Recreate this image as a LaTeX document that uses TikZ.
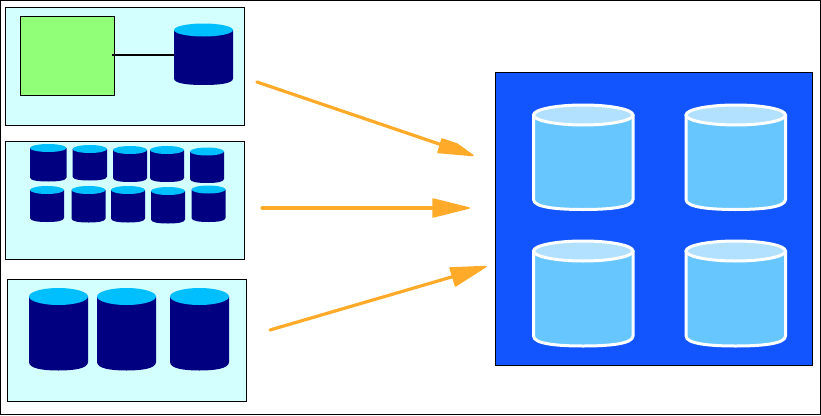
\documentclass[tikz,border=0pt]{standalone}
\definecolor{panelbg}{HTML}{D4FFFF}
\definecolor{greenbox}{HTML}{92FF78}
\definecolor{navycyl}{HTML}{000080}
\definecolor{skytop}{HTML}{00BFFF}
\definecolor{bigblue}{HTML}{1255FF}
\definecolor{lightbody}{HTML}{68C6FF}
\definecolor{lighttop}{HTML}{B2E1FF}
\definecolor{arroworange}{HTML}{FFAA28}
\tikzset{
  panel/.style={draw=black,line width=1pt,fill=panelbg},
  flow/.style={draw=arroworange,line width=3.2pt,line cap=round},
  flowhead/.style={fill=arroworange,draw=arroworange,line width=1.5pt,line join=round},
}
% x1 x2 ytopcentre ybottom ry
\newcommand{\smallcyl}[5]{%
  \fill[navycyl] (#1,#3) -- (#1,#4-#5) .. controls (#1,#4-0.2*#5) and ({#1+0.25*(#2-#1)},#4) .. ({0.5*(#1+#2)},#4)
     .. controls ({#1+0.75*(#2-#1)},#4) and (#2,#4-0.2*#5) .. (#2,#4-#5) -- (#2,#3) -- cycle;
  \fill[skytop] ({0.5*(#1+#2)},#3) ellipse [x radius={0.5*(#2-#1)}, y radius=#5];
}
\newcommand{\bigcyl}[5]{%
  \draw[white,line width=3pt,fill=lightbody,line join=round] (#1,#3) -- (#1,#4-#5) .. controls (#1,#4-0.2*#5) and ({#1+0.25*(#2-#1)},#4) .. ({0.5*(#1+#2)},#4)
     .. controls ({#1+0.75*(#2-#1)},#4) and (#2,#4-0.2*#5) .. (#2,#4-#5) -- (#2,#3) -- cycle;
  \draw[white,line width=3pt,fill=lighttop] ({0.5*(#1+#2)},#3) ellipse [x radius={0.5*(#2-#1)}, y radius=#5];
}
\begin{document}
\begin{tikzpicture}[x=1pt,y=-1pt]
\useasboundingbox (0,0) rectangle (821,415);
\draw[black,line width=1pt] (0.5,0.5) rectangle (820.5,414);
% top panel
\draw[panel] (5.5,7.5) rectangle (244.5,125.5);
\node[draw=black,line width=1pt,fill=greenbox,minimum width=94pt,minimum height=79pt,inner sep=0pt,anchor=north west] (host) at (19.5,15.5) {};
\coordinate (diskport) at (175,55);
\draw[black,line width=1.6pt] (112,55) -- (diskport);
\smallcyl{174}{233}{30}{85}{6.5}
% middle panel
\draw[panel] (5.5,141.5) rectangle (244.5,259.5);
\smallcyl{30}{66.5}{148}{181.5}{4}
\smallcyl{72.5}{107}{149}{180.5}{4}
\smallcyl{113}{147}{150}{182}{4}
\smallcyl{150}{184}{150}{182}{4}
\smallcyl{190}{224}{151.5}{183}{4}
\smallcyl{30}{64}{190}{222}{4}
\smallcyl{71.5}{105.5}{190}{222.5}{4}
\smallcyl{111}{145}{190}{222.5}{4}
\smallcyl{151}{185}{191}{223.5}{4}
\smallcyl{191.5}{225.5}{189.5}{222}{4}
% bottom panel
\draw[panel] (7.5,279.5) rectangle (246.5,401.5);
\draw[black,line width=1.5pt] (7,401.5) -- (247,401.5);
\smallcyl{29}{88}{296.5}{370.5}{8.5}
\smallcyl{97}{156}{296.5}{370.5}{8.5}
\smallcyl{170}{229}{296.5}{370.5}{8.5}
% big panel
\node[draw=black,line width=1pt,fill=bigblue,minimum width=317pt,minimum height=293pt,inner sep=0pt,anchor=north west] (store) at (494.5,71.5) {};
\bigcyl{533.5}{633}{115}{209.5}{10}
\bigcyl{686}{785.5}{115}{209.5}{10}
\bigcyl{533.5}{633}{251}{346}{10}
\bigcyl{686}{785.5}{251}{346}{10}
% arrows
\coordinate (a1s) at (257,82); \coordinate (a1e) at (445,146);
\coordinate (a2s) at (262,208); \coordinate (a2e) at (436,208);
\coordinate (a3s) at (270,330); \coordinate (a3e) at (455,276);
\draw[flow] (a1s) -- (a1e);
\draw[flow] (a2s) -- (a2e);
\draw[flow] (a3s) -- (a3e);
\fill[flowhead] (473,155.5) -- (438,152.5) -- (442,139) -- (457,144) -- cycle;
\fill[flowhead] (469,208) -- (433,199) -- (433,217) -- cycle;
\fill[flowhead] (486,266.5) -- (450,268) -- (455.5,286) -- cycle;
\end{tikzpicture}
\end{document}
